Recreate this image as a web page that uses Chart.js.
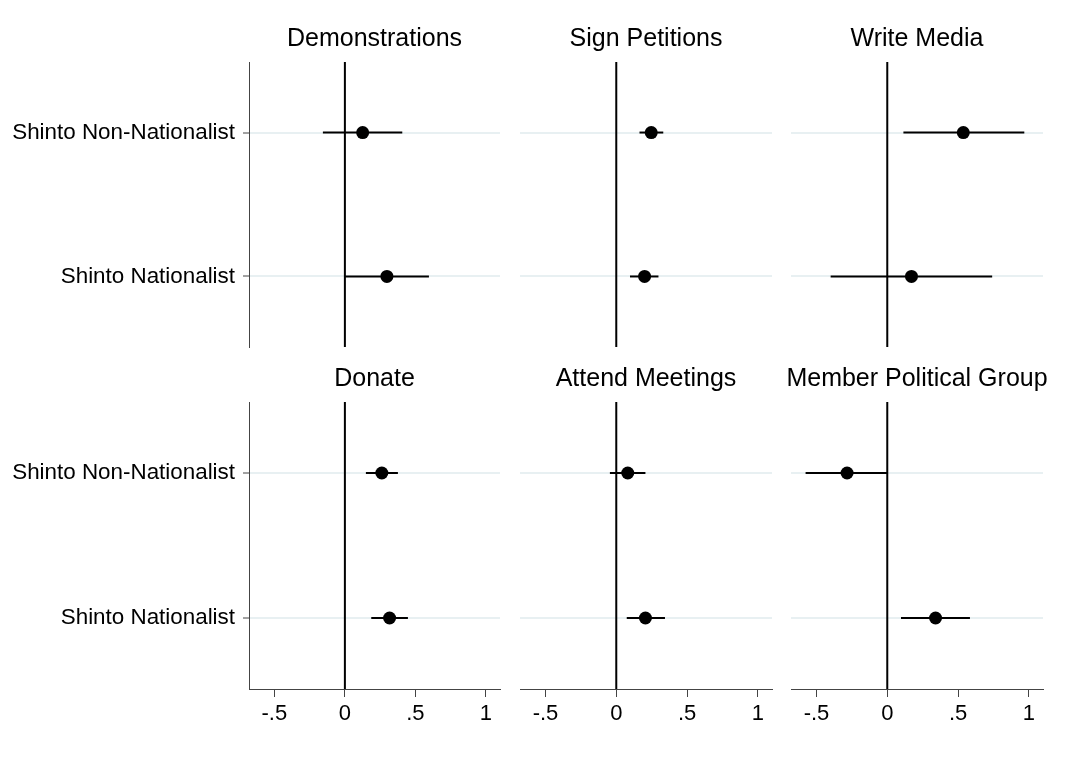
<!DOCTYPE html>
<html>
<head>
<meta charset="utf-8">
<script src="https://cdn.jsdelivr.net/npm/chart.js@4.4.0/dist/chart.umd.min.js"></script>
<style>
  html, body { margin: 0; padding: 0; background: #ffffff; }
  #wrap { position: relative; width: 1073px; height: 763px; overflow: hidden; background: #fff; }
  .cell { position: absolute; }
</style>
</head>
<body>
<div id="wrap"></div>
<script>
// ---- Data ----
const categories = ["Shinto Non-Nationalist", "Shinto Nationalist"];
const panelTitles = ["Demonstrations", "Sign Petitions", "Write Media", "Donate", "Attend Meetings", "Member Political Group"];
// Shinto Non-Nationalist: estimate and 95% CI
const estNonNat = [0.126, 0.247, 0.537, 0.262, 0.081, -0.284];
const loNonNat  = [-0.156, 0.164, 0.114, 0.149, -0.045, -0.577];
const hiNonNat  = [0.407, 0.332, 0.968, 0.376, 0.206, 0.000];
// Shinto Nationalist: estimate and 95% CI
const estNat = [0.298, 0.200, 0.171, 0.317, 0.206, 0.341];
const loNat  = [0.000, 0.097, -0.400, 0.187, 0.074, 0.097];
const hiNat  = [0.596, 0.298, 0.741, 0.447, 0.344, 0.584];
// x axis ticks
const xTickValues = [-0.5, 0, 0.5, 1];
const xTickLabels = ["-.5", "0", ".5", "1"];
const xRange = [-0.68, 1.10];
const yRange = [0.51, 2.49];

const FONT = "'Liberation Sans', Arial, Helvetica, sans-serif";

// panel cell geometry: [canvasLeft, canvasTop, canvasWidth, canvasHeight, padL, padR, padT, padB]
const cells = [
  [0,   0,   510, 360, 0,  10, 62, 13],
  [510, 0,   270, 360, 10, 8,  62, 13],
  [781, 0,   292, 360, 10, 30, 62, 13],
  [0,   360, 510, 403, 0,  10, 42, 34],
  [510, 360, 270, 403, 10, 8,  42, 34],
  [781, 360, 292, 403, 10, 30, 42, 34]
];

const titlePlugin = {
  id: 'panelTitle',
  afterDraw(chart, args, opts) {
    const ctx = chart.ctx, a = chart.chartArea;
    ctx.save();
    ctx.font = '25px ' + FONT;
    ctx.fillStyle = '#000';
    ctx.textAlign = 'center';
    ctx.textBaseline = 'alphabetic';
    ctx.fillText(opts.text, (a.left + a.right) / 2, a.top - 16);
    ctx.restore();
  }
};

const wrap = document.getElementById('wrap');
cells.forEach((c, i) => {
  const div = document.createElement('div');
  div.className = 'cell';
  div.style.left = c[0] + 'px';
  div.style.top = c[1] + 'px';
  div.style.width = c[2] + 'px';
  div.style.height = c[3] + 'px';
  const cv = document.createElement('canvas');
  cv.width = c[2]; cv.height = c[3];
  cv.style.width = c[2] + 'px'; cv.style.height = c[3] + 'px';
  div.appendChild(cv);
  wrap.appendChild(div);

  const firstCol = (i % 3) === 0;
  const bottomRow = i >= 3;

  const datasets = [
    { // zero reference line
      type: 'line',
      data: [{ x: 0, y: yRange[0] }, { x: 0, y: yRange[1] }],
      borderColor: '#000', borderWidth: 2, pointRadius: 0, fill: false, order: 3
    },
    { // CI Non-Nationalist
      type: 'line',
      data: [{ x: loNonNat[i], y: 1 }, { x: hiNonNat[i], y: 1 }],
      borderColor: '#000', borderWidth: 2, pointRadius: 0, fill: false, order: 2
    },
    { // CI Nationalist
      type: 'line',
      data: [{ x: loNat[i], y: 2 }, { x: hiNat[i], y: 2 }],
      borderColor: '#000', borderWidth: 2, pointRadius: 0, fill: false, order: 2
    },
    { // point estimates
      type: 'scatter',
      data: [{ x: estNonNat[i], y: 1 }, { x: estNat[i], y: 2 }],
      backgroundColor: '#000', borderColor: '#000', pointRadius: 6.5, borderWidth: 0, order: 1
    }
  ];

  new Chart(cv, {
    type: 'scatter',
    data: { datasets },
    plugins: [titlePlugin],
    options: {
      responsive: false,
      animation: false,
      devicePixelRatio: 1,
      layout: { padding: { left: c[4], right: c[5], top: c[6], bottom: c[7] } },
      plugins: {
        legend: { display: false },
        tooltip: { enabled: false },
        panelTitle: { text: panelTitles[i] }
      },
      scales: {
        x: {
          type: 'linear',
          min: xRange[0], max: xRange[1],
          display: bottomRow,
          afterBuildTicks: s => { s.ticks = xTickValues.map(v => ({ value: v })); },
          afterFit: s => { s.height = bottomRow ? 40 : 0; s.paddingLeft = 0; s.paddingRight = 0; },
          ticks: {
            autoSkip: false, maxRotation: 0, padding: 4,
            color: '#000', font: { family: FONT, size: 22 },
            callback: v => { const k = xTickValues.indexOf(v); return k >= 0 ? xTickLabels[k] : ''; }
          },
          grid: { drawOnChartArea: false, drawTicks: true, tickLength: 8, tickColor: '#444', tickWidth: 1 },
          border: { display: true, color: '#444', width: 1 }
        },
        y: {
          type: 'linear',
          reverse: true,
          min: yRange[0], max: yRange[1],
          afterBuildTicks: s => { s.ticks = [1, 2].map(v => ({ value: v })); },
          afterFit: s => { s.width = firstCol ? 249 : 0; s.paddingTop = 0; s.paddingBottom = 0; },
          ticks: {
            display: firstCol, autoSkip: false, padding: 8,
            color: '#000', font: { family: FONT, size: 22.4 },
            callback: v => categories[v - 1] || ''
          },
          grid: {
            color: '#e8f0f2', lineWidth: 2,
            drawTicks: firstCol, tickLength: 6, tickColor: '#444', tickWidth: 1
          },
          border: { display: firstCol, color: '#444', width: 1 }
        }
      }
    }
  });
});
</script>
</body>
</html>
